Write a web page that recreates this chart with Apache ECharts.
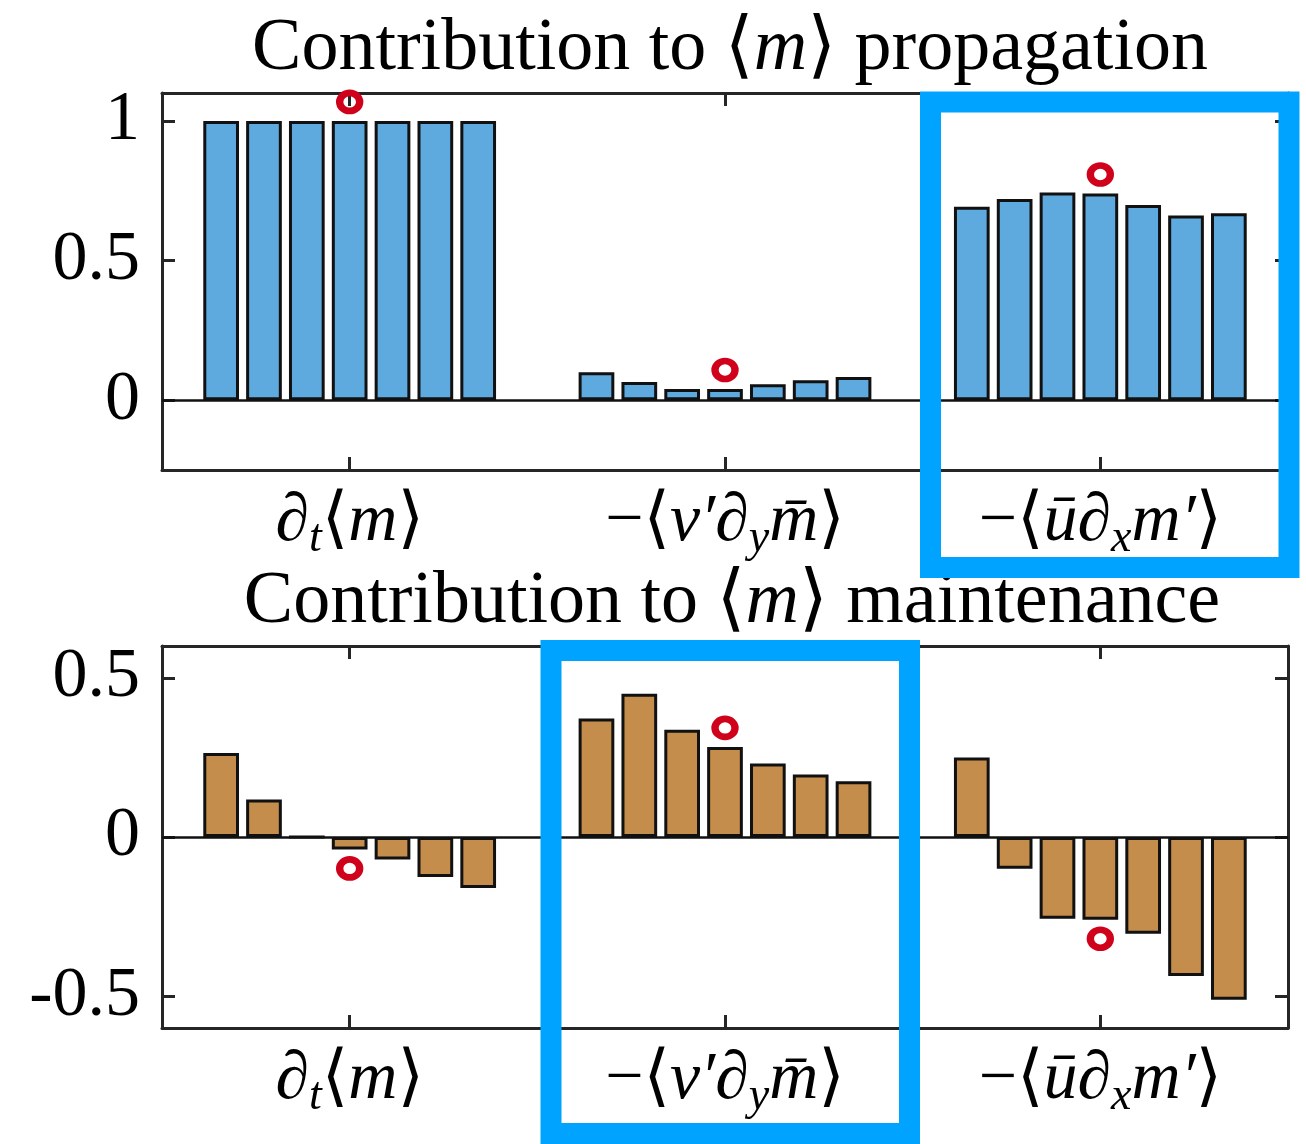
<!DOCTYPE html>
<html>
<head>
<meta charset="utf-8">
<script src="https://cdn.jsdelivr.net/npm/echarts@6/dist/echarts.min.js"></script>
<style>
    html, body {margin: 0; background: #fff;}
    #chart {width: 1306px; height: 1144px;}
</style>
</head>
<body>
<div id="chart"></div>
<script>
// three budget terms on the x axis, 7 members (bars) per term
const terms = ['dt', 'vdy', 'udx'];
const termLabels = [
    '{i|∂}{sub|t}{n|⟨}{i|m}{n|⟩}',
    '{n|−⟨}{i|v′∂}{sub|y}{i|m\u0304}{n|⟩}',
    '{n|−⟨}{i|\u016B∂}{sub|x}{i|m′}{n|⟩}'
];

// contribution to <m> propagation
const propDt = [1, 1, 1, 1, 1, 1, 1];
const propVdy = [0.10, 0.065, 0.04, 0.04, 0.057, 0.071, 0.083];
const propUdx = [0.693, 0.72, 0.744, 0.74, 0.699, 0.661, 0.669];

// contribution to <m> maintenance
const maintDt = [0.264, 0.118, 0, -0.039, -0.071, -0.126, -0.16];
const maintVdy = [0.372, 0.45, 0.337, 0.283, 0.231, 0.196, 0.175];
const maintUdx = [0.25, -0.10, -0.257, -0.26, -0.304, -0.437, -0.511];

const markedMember = 3;
const topTicks = [0, 0.5, 1];
const bottomTicks = [-0.5, 0, 0.5];

const serif = '"Liberation Serif", "DejaVu Serif", serif';
const axisColor = '#262626';
const blueBar = '#5EAADE';
const tanBar = '#C58D4B';
const markColor = '#D0021B';
const boxColor = '#00A3FF';

const chart = echarts.init(document.getElementById('chart'));

const richMath = {
    n: {fontFamily: serif, fontSize: 68, lineHeight: 80, verticalAlign: 'middle', color: '#000'},
    i: {fontFamily: serif, fontStyle: 'italic', fontSize: 68, lineHeight: 80, verticalAlign: 'middle', color: '#000'},
    sub: {fontFamily: serif, fontStyle: 'italic', fontSize: 46, lineHeight: 44, verticalAlign: 'bottom', color: '#000'}
};

function yAxes(grid, min, max, ticks) {
    const base = {
        type: 'value',
        gridIndex: grid,
        min: min,
        max: max,
        splitLine: {show: false},
        axisLine: {show: true, onZero: false, lineStyle: {color: axisColor, width: 3}},
        axisTick: {show: true, inside: true, length: 13, customValues: ticks, lineStyle: {color: axisColor, width: 3}}
    };
    return [
        Object.assign({}, base, {
            position: 'left',
            axisLabel: {
                customValues: ticks,
                margin: 22,
                fontSize: 70,
                fontFamily: serif,
                color: '#000',
                formatter: v => String(v)
            }
        }),
        Object.assign({}, base, {position: 'right', axisLabel: {show: false}})
    ];
}

function xAxes(grid) {
    const base = {
        type: 'category',
        gridIndex: grid,
        data: terms,
        axisLine: {show: true, onZero: false, lineStyle: {color: axisColor, width: 3}},
        axisTick: {show: true, inside: true, alignWithLabel: true, length: 13, lineStyle: {color: axisColor, width: 3}}
    };
    return [
        Object.assign({}, base, {
            position: 'bottom',
            axisLabel: {
                margin: 12,
                formatter: (v, i) => termLabels[i],
                rich: richMath
            }
        }),
        Object.assign({}, base, {position: 'top', axisLabel: {show: false}})
    ];
}

function panelSeries(grid, arrays, color) {
    const list = [];
    for (let k = 0; k < arrays[0].length; k++) {
        const s = {
            type: 'bar',
            xAxisIndex: grid * 2,
            yAxisIndex: grid * 2,
            data: arrays.map(a => a[k]),
            barCategoryGap: '22%',
            barGap: '20%',
            itemStyle: {color: color, borderColor: '#111', borderWidth: 3},
            emphasis: {disabled: true}
        };
        if (k === 0)
            s.markLine = {
                silent: true,
                symbol: ['none', 'none'],
                label: {show: false},
                lineStyle: {color: '#111', width: 2.5, type: 'solid'},
                data: [{yAxis: 0}]
            };
        list.push(s);
    }
    // red "o" above (or below) the marked member of each term
    list.push({
        type: 'scatter',
        xAxisIndex: grid * 2,
        yAxisIndex: grid * 2,
        symbol: 'circle',
        symbolSize: [20, 18],
        itemStyle: {color: 'rgba(0,0,0,0)', borderColor: markColor, borderWidth: 7, opacity: 1},
        emphasis: {disabled: true},
        z: 5,
        data: arrays.map((a, i) => {
            const v = a[markedMember];
            return {value: [i, v], symbolOffset: [0, v >= 0 ? -19 : 19]};
        })
    });
    return list;
}

const titleStyle = {
    fontFamily: serif,
    fontSize: 74,
    fontWeight: 'normal',
    color: '#000',
    rich: {
        n: {fontFamily: serif, fontSize: 74, color: '#000'},
        i: {fontFamily: serif, fontStyle: 'italic', fontSize: 74, color: '#000'}
    }
};

chart.setOption({
    animation: false,
    backgroundColor: '#fff',
    title: [
        {text: '{n|Contribution to ⟨}{i|m}{n|⟩ propagation}', left: 725, top: 8, textAlign: 'center', textStyle: titleStyle},
        {text: '{n|Contribution to ⟨}{i|m}{n|⟩ maintenance}', left: 727, top: 561, textAlign: 'center', textStyle: titleStyle}
    ],
    grid: [
        {left: 162, top: 93, width: 1126, height: 377},
        {left: 162, top: 646, width: 1126, height: 382}
    ],
    xAxis: xAxes(0).concat(xAxes(1)),
    yAxis: yAxes(0, -0.25, 1.1, topTicks).concat(yAxes(1, -0.6, 0.6, bottomTicks)),
    series: panelSeries(0, [propDt, propVdy, propUdx], blueBar)
        .concat(panelSeries(1, [maintDt, maintVdy, maintUdx], tanBar)),
    graphic: [
        {type: 'rect', z: 100, shape: {x: 930.5, y: 102, width: 358.5, height: 465.5}, style: {fill: 'none', stroke: boxColor, lineWidth: 21}},
        {type: 'rect', z: 100, shape: {x: 551, y: 650.5, width: 358.5, height: 483}, style: {fill: 'none', stroke: boxColor, lineWidth: 21}}
    ]
});
</script>
</body>
</html>
